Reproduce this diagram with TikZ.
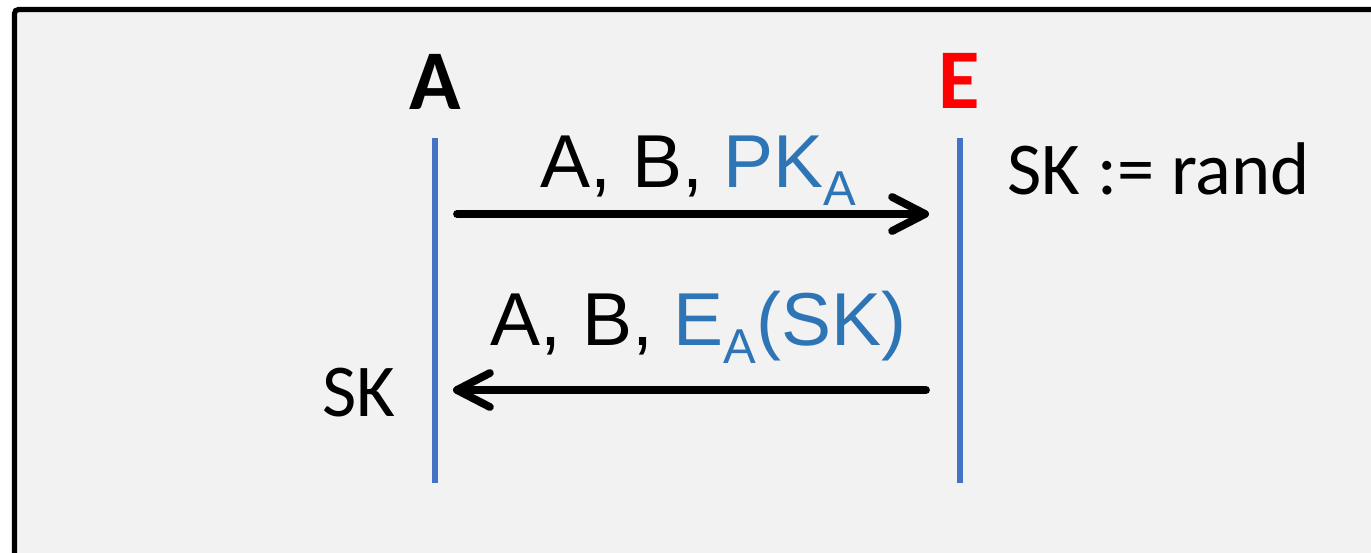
\documentclass[tikz,border=0pt]{standalone}
\usepackage{fontspec}
\setmainfont{Carlito}
\newfontfamily\arialfont{Liberation Sans}
\usetikzlibrary{arrows.meta}
\definecolor{panelgray}{HTML}{F2F2F2}
\definecolor{lifeblue}{HTML}{4472C4}
\definecolor{keyblue}{HTML}{2E75B6}
\definecolor{evered}{HTML}{FF0000}
\tikzset{
  party/.style={inner sep=0pt, anchor=base, font=\fontsize{42.5}{50}\selectfont\bfseries},
  note/.style={inner sep=0pt, anchor=base west, font=\fontsize{37.3}{44}\selectfont},
  msglabel/.style={inner sep=0pt, anchor=base west, font=\arialfont\fontsize{37.5}{45}\selectfont},
  lifeline/.style={draw=lifeblue, line width=2.6pt},
  msgarrow/.style={draw=black, line width=3.9pt, line cap=round,
    -{Straight Barb[length=16.5pt, width=17pt, round]}}
}
\newcommand{\keysub}[1]{\raisebox{-9pt}{\fontsize{24.5}{28}\selectfont #1}}
\begin{document}
\begin{tikzpicture}[x=0.5pt, y=-0.5pt]
  \useasboundingbox (0,0) rectangle (1371,552);
  \clip (0,0) rectangle (1371,552);
  % panel
  \draw[fill=panelgray, draw=black, line width=2.6pt, rounded corners=2pt]
    (14.5,9.5) rectangle (1400,600);
  % parties
  \node[party] (pa) at (435,109) {A};
  \node[party, text=evered] (pe) at (959,108) {E};
  % lifelines
  \coordinate (aTop) at (435,138);
  \coordinate (aBot) at (435,483);
  \coordinate (eTop) at (960,138);
  \coordinate (eBot) at (960,483);
  \draw[lifeline] (aTop) -- (aBot);
  \draw[lifeline] (eTop) -- (eBot);
  % message 1: A -> E
  \coordinate (m1s) at (457,214);
  \coordinate (m1e) at (929,214);
  \draw[msgarrow] (m1s) -- (m1e);
  \node[msglabel] (l1) at (540,187) {A, B, \textcolor{keyblue}{PK\keysub{A}}};
  % message 2: E -> A
  \coordinate (m2s) at (926,390);
  \coordinate (m2e) at (453,390);
  \draw[msgarrow] (m2s) -- (m2e);
  \node[msglabel] (l2) at (490,345) {A, B, \textcolor{keyblue}{E\keysub{A}(SK)}};
  % local computations
  \node[note] (rnd) at (1007,194) {SK := rand};
  \node[note] (sk) at (322,416) {SK};
\end{tikzpicture}
\end{document}
